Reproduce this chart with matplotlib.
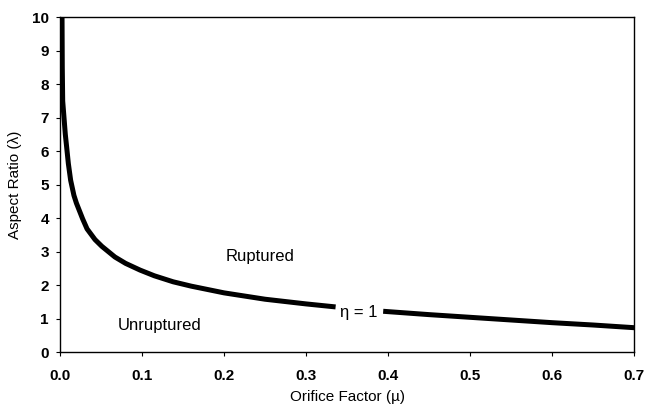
import numpy as np
import matplotlib
matplotlib.use("Agg")
import matplotlib.pyplot as plt

plt.rcParams['font.family'] = ['Liberation Sans', 'DejaVu Sans']

# eta = 1 boundary (two pieces, gap for the label)
mu_left = [0.0025, 0.0028, 0.0033, 0.0049, 0.0065, 0.0081, 0.0102, 0.013,
           0.017, 0.020, 0.0276, 0.033, 0.0427, 0.051, 0.067, 0.080,
           0.0976, 0.115, 0.138, 0.160, 0.200, 0.250, 0.300, 0.336]
lam_left = [10.0, 8.5, 7.5, 7.0, 6.5, 6.13, 5.63, 5.13,
            4.68, 4.45, 3.98, 3.68, 3.36, 3.16, 2.84, 2.65,
            2.45, 2.28, 2.10, 1.97, 1.77, 1.58, 1.44, 1.35]
mu_right = [0.394, 0.45, 0.50, 0.55, 0.60, 0.65, 0.70]
lam_right = [1.22, 1.12, 1.04, 0.96, 0.88, 0.81, 0.73]

xticks = [0.0, 0.1, 0.2, 0.3, 0.4, 0.5, 0.6, 0.7]
yticks = list(range(0, 11))

fig = plt.figure(figsize=(6.57, 4.09), dpi=100)
ax = fig.add_axes([0.0913, 0.139, 0.874, 0.819])

for xs, ys in [(mu_left, lam_left), (mu_right, lam_right)]:
    ax.plot(xs, ys, color='black', lw=3.6, solid_capstyle='butt',
            solid_joinstyle='round')

ax.set_xlim(0, 0.7)
ax.set_ylim(0, 10)
ax.set_xticks(xticks)
ax.set_xticklabels(['%.1f' % v for v in xticks])
ax.set_yticks(yticks)
ax.tick_params(direction='out', length=3, width=0.8, labelsize=11)
for lab in ax.get_xticklabels() + ax.get_yticklabels():
    lab.set_fontweight('bold')
ax.tick_params(axis='x', pad=9)
ax.tick_params(axis='y', pad=5)

for s in ax.spines.values():
    s.set_linewidth(1.0)

ax.set_xlabel('Orifice Factor (\u00b5)', fontsize=11, labelpad=5)
ax.set_ylabel('Aspect Ratio (\u03bb)', fontsize=11, labelpad=7)

ax.text(0.244, 2.85, 'Ruptured', ha='center', va='center', fontsize=12)
ax.text(0.122, 0.8, 'Unruptured', ha='center', va='center', fontsize=12)
ax.text(0.364, 1.18, '\u03b7 = 1', ha='center', va='center', fontsize=12)

fig.savefig('out.png', dpi=100)
